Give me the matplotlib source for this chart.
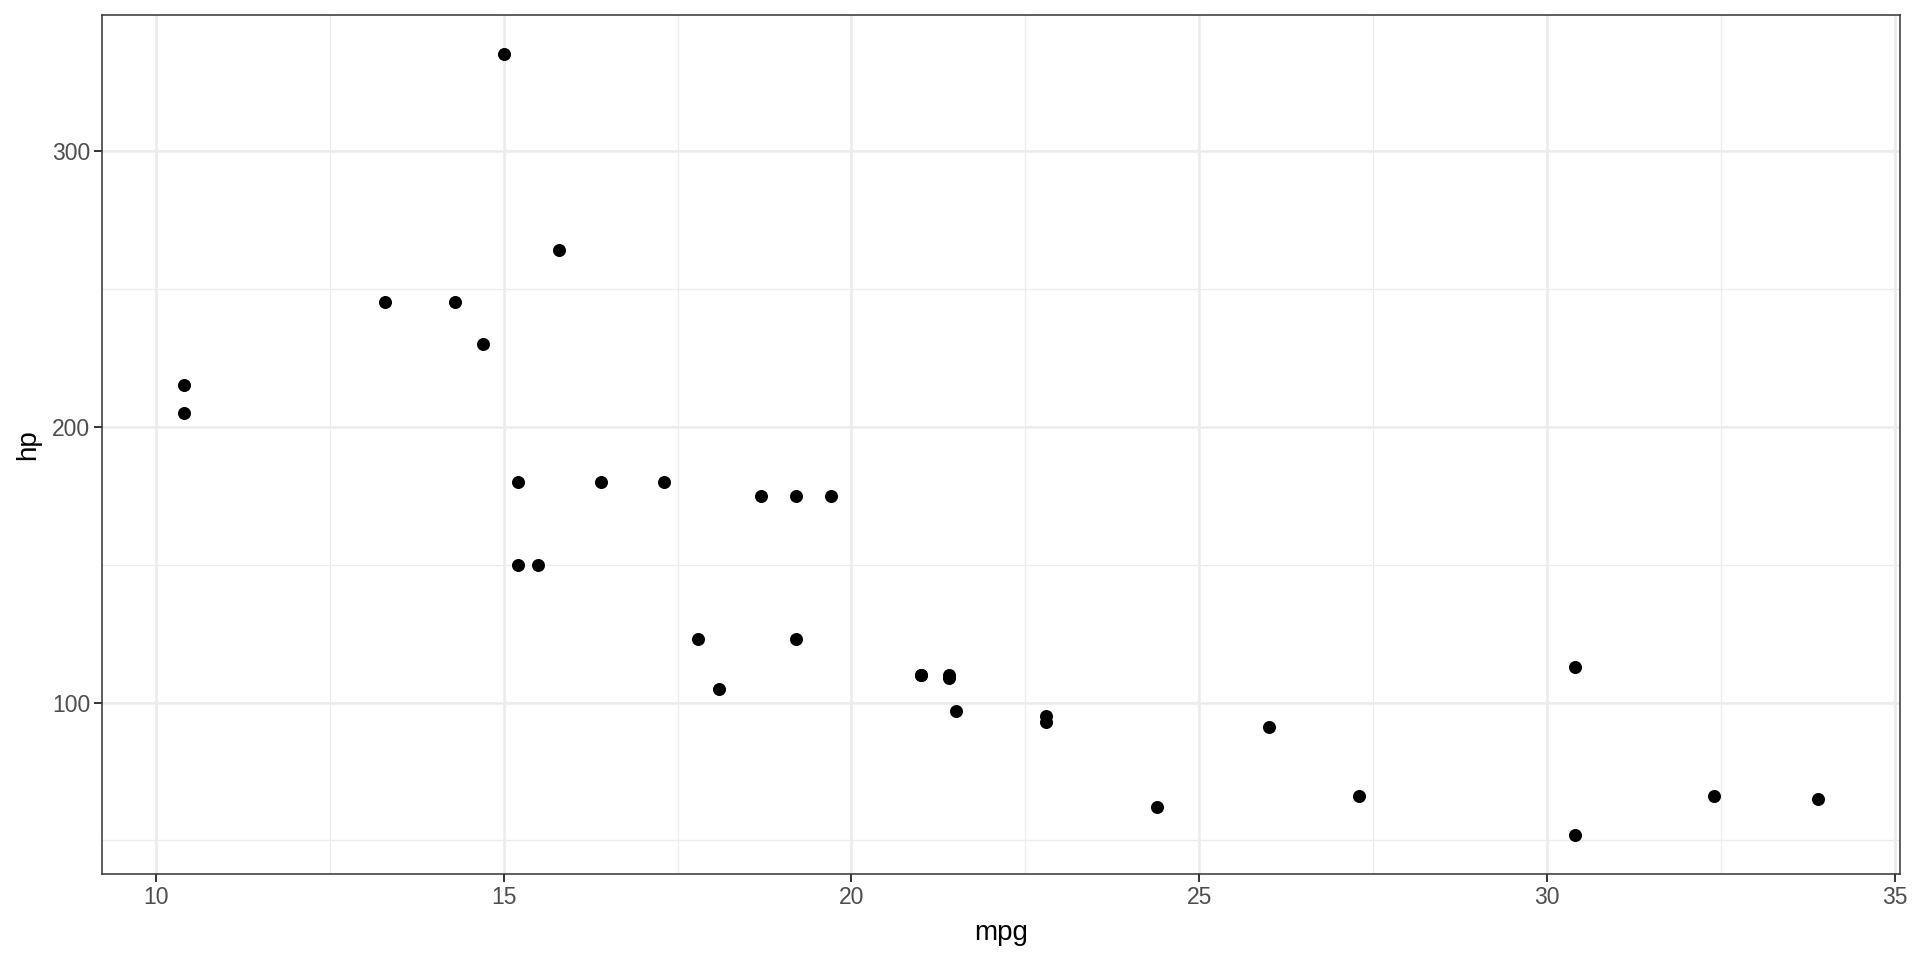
import matplotlib
matplotlib.use("Agg")
import matplotlib.pyplot as plt
from matplotlib.ticker import MultipleLocator

plt.rcParams['font.family'] = ['Liberation Sans', 'DejaVu Sans']

# mtcars: mpg vs hp
mpg = [21.0, 21.0, 22.8, 21.4, 18.7, 18.1, 14.3, 24.4, 22.8, 19.2, 17.8,
       16.4, 17.3, 15.2, 10.4, 10.4, 14.7, 32.4, 30.4, 33.9, 21.5, 15.5,
       15.2, 13.3, 19.2, 27.3, 26.0, 30.4, 15.8, 19.7, 15.0, 21.4]
hp = [110, 110, 93, 110, 175, 105, 245, 62, 95, 123, 123,
      180, 180, 180, 205, 215, 230, 66, 52, 65, 97, 150,
      150, 245, 175, 66, 91, 113, 264, 175, 335, 109]

x_ticks = [10, 15, 20, 25, 30, 35]
y_ticks = [100, 200, 300]

fig = plt.figure(figsize=(19.2, 9.6), dpi=100)
ax = fig.add_axes([102 / 1920, 1 - 874 / 960, (1900 - 102) / 1920, (874 - 15) / 960])

# ggplot-style expansion (5%)
xr = max(mpg) - min(mpg)
yr = max(hp) - min(hp)
ax.set_xlim(min(mpg) - 0.05 * xr, max(mpg) + 0.05 * xr)
ax.set_ylim(min(hp) - 0.05 * yr, max(hp) + 0.05 * yr)

ax.set_xticks(x_ticks)
ax.set_yticks(y_ticks)
ax.xaxis.set_minor_locator(MultipleLocator(2.5))
ax.yaxis.set_minor_locator(MultipleLocator(50))

ax.grid(True, which='major', color='#EBEBEB', linewidth=1.8)
ax.grid(True, which='minor', color='#EBEBEB', linewidth=0.9)
ax.set_axisbelow(True)

ax.scatter(mpg, hp, s=88, color='black', linewidths=0, zorder=3)

for sp in ax.spines.values():
    sp.set_color('#333333')
    sp.set_linewidth(1.1)

ax.tick_params(which='major', length=5.5, width=1.4, color='#333333',
               labelsize=16.5, labelcolor='#4D4D4D', pad=3)
ax.tick_params(which='minor', length=0)

ax.set_xlabel('mpg', fontsize=20, color='black', labelpad=8)
ax.set_ylabel('hp', fontsize=20, color='black', labelpad=8)

fig.savefig('out.png', dpi=100, facecolor='white')
